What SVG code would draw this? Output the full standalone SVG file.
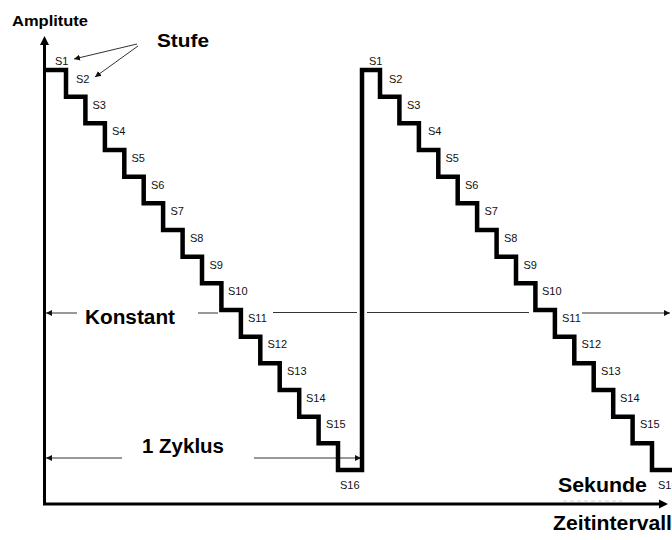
<svg xmlns="http://www.w3.org/2000/svg" width="672" height="540" viewBox="0 0 672 540">
  <defs>
    <marker id="tipEnd" viewBox="0 0 6 6" refX="6" refY="3" markerWidth="6" markerHeight="6" markerUnits="userSpaceOnUse" orient="auto">
      <path d="M0 0 L6 3 L0 6 Z" fill="#111"/>
    </marker>
    <style>
      .lbl { font-family: "Liberation Sans", Arial, sans-serif; font-size: 11px; fill: #111; }
      .big { font-family: "Liberation Sans", Arial, sans-serif; font-weight: bold; fill: #000; }
      .thin { fill: none; stroke: #333; stroke-width: 1; }
      .axis { fill: none; stroke: #000; stroke-width: 3; }
      .wave { fill: none; stroke: #000; stroke-width: 4.5; stroke-linejoin: miter; }
    </style>
  </defs>
  <rect width="672" height="540" fill="#fff"/>

  <!-- axes -->
  <g id="axes">
    <path class="axis" d="M44.5 42 V504 H662"/>
    <polygon points="44.5,36 40,45 49,45" fill="#000"/>
    <polygon points="668,504 659,499.5 659,508.5" fill="#000"/>
    <text class="big" x="12" y="26" font-size="14.5" textLength="76" lengthAdjust="spacingAndGlyphs">Amplitute</text>
    <text class="big" x="553" y="530" font-size="20" textLength="119" lengthAdjust="spacingAndGlyphs">Zeitintervall</text>
    <line x1="563" y1="501" x2="622" y2="501" stroke="#d4d4d4" stroke-width="1" stroke-dasharray="4 3"/>
  </g>

  <!-- measurement and pointer lines -->
  <g id="connectors">
    <path class="thin" d="M77 313 H46" marker-end="url(#tipEnd)"/>
    <path class="thin" d="M198 313 H218"/>
    <path class="thin" d="M273 312.5 H357"/>
    <path class="thin" d="M367 312.5 H529"/>
    <path class="thin" d="M582 313 H670" marker-end="url(#tipEnd)"/>
    <path class="thin" d="M122 458 H46" marker-end="url(#tipEnd)"/>
    <path class="thin" d="M254 458 H361" marker-end="url(#tipEnd)"/>
    <path class="thin" d="M137 44 L74 59" marker-end="url(#tipEnd)"/>
    <path class="thin" d="M138 46 L95 77" marker-end="url(#tipEnd)"/>
  </g>

  <!-- stepped sawtooth signal, two cycles -->
  <g id="signal">
    <path class="wave" d="M46 70 H66 V96.7 H85.4 V123.3 H104.9 V150 H124.3 V176.7 H143.7 V203.3 H163.1 V230 H182.6 V256.7 H202 V283.3 H221.4 V310 H240.9 V336.7 H260.3 V363.3 H279.7 V390 H299.2 V416.7 H318.6 V443.3 H338 V470 H362 V70 H380 V96.7 H399.4 V123.3 H418.9 V150 H438.3 V176.7 H457.7 V203.3 H477.1 V230 H496.6 V256.7 H516 V283.3 H535.4 V310 H554.9 V336.7 H574.3 V363.3 H593.7 V390 H613.2 V416.7 H632.6 V443.3 H652 V470 H676"/>
  </g>

  <!-- step labels, first cycle -->
  <g id="steps-cycle1">
    <text class="lbl" x="55" y="65">S1</text>
    <text class="lbl" x="76" y="83">S2</text>
    <text class="lbl" x="92.5" y="109">S3</text>
    <text class="lbl" x="112" y="135">S4</text>
    <text class="lbl" x="131.5" y="162">S5</text>
    <text class="lbl" x="151" y="189">S6</text>
    <text class="lbl" x="170.5" y="215">S7</text>
    <text class="lbl" x="190" y="242">S8</text>
    <text class="lbl" x="209.5" y="269">S9</text>
    <text class="lbl" x="228" y="295">S10</text>
    <text class="lbl" x="248" y="322">S11</text>
    <text class="lbl" x="267.5" y="348">S12</text>
    <text class="lbl" x="287" y="375">S13</text>
    <text class="lbl" x="306" y="402">S14</text>
    <text class="lbl" x="326" y="428">S15</text>
    <text class="lbl" x="340" y="489">S16</text>
  </g>

  <!-- step labels, second cycle -->
  <g id="steps-cycle2">
    <text class="lbl" x="369" y="65">S1</text>
    <text class="lbl" x="389" y="83">S2</text>
    <text class="lbl" x="407" y="109">S3</text>
    <text class="lbl" x="428" y="135">S4</text>
    <text class="lbl" x="445.5" y="162">S5</text>
    <text class="lbl" x="465" y="189">S6</text>
    <text class="lbl" x="484.5" y="215">S7</text>
    <text class="lbl" x="504" y="242">S8</text>
    <text class="lbl" x="523.5" y="269">S9</text>
    <text class="lbl" x="542" y="295">S10</text>
    <text class="lbl" x="562" y="322">S11</text>
    <text class="lbl" x="581.5" y="348">S12</text>
    <text class="lbl" x="601" y="375">S13</text>
    <text class="lbl" x="620" y="402">S14</text>
    <text class="lbl" x="640" y="428">S15</text>
    <text class="lbl" x="658" y="489">S16</text>
  </g>

  <!-- annotations -->
  <g id="stufe"><text class="big" x="157" y="47" font-size="19" textLength="52" lengthAdjust="spacingAndGlyphs">Stufe</text></g>
  <g id="konstant"><text class="big" x="85" y="324" font-size="20" textLength="90" lengthAdjust="spacingAndGlyphs">Konstant</text></g>
  <g id="zyklus"><text class="big" x="142" y="453" font-size="20" textLength="82" lengthAdjust="spacingAndGlyphs">1 Zyklus</text></g>
  <g id="sekunde"><text class="big" x="558" y="492" font-size="20" textLength="89" lengthAdjust="spacingAndGlyphs">Sekunde</text></g>
</svg>
